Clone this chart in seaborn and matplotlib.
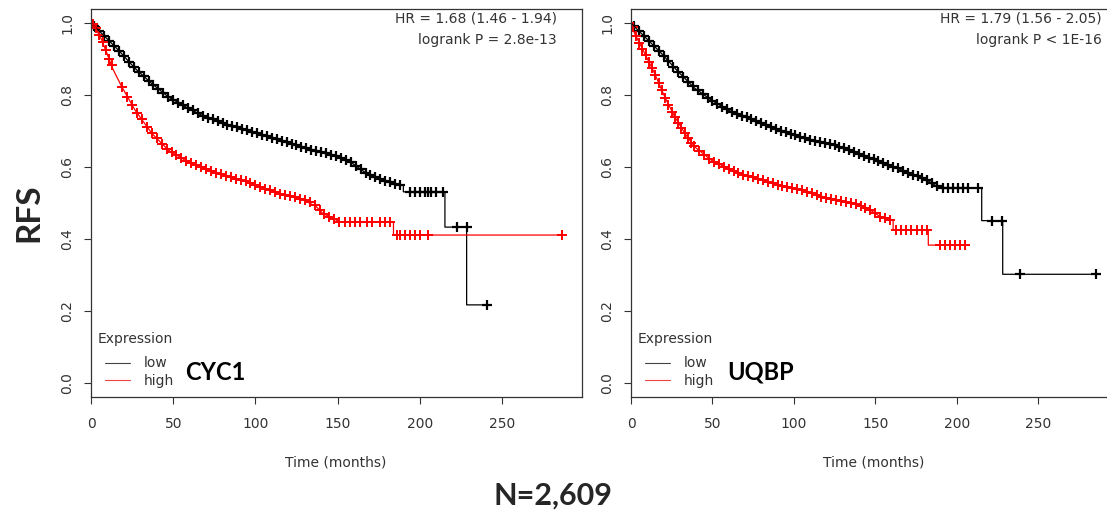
import matplotlib
matplotlib.use('Agg')
import matplotlib.pyplot as plt
import seaborn as sns
from matplotlib.lines import Line2D

# ---------------- data ----------------
# CYC1 (left panel) - curve vertices and censor marks
cyc1_low_t = [0, 8.5, 16.6, 26.8, 36.9, 47, 57.2, 67.3, 77.4, 87.6, 97.7, 107.9, 118, 128.2, 138.3,
              147.4, 157.5, 167.7, 177.8, 188, 190, 190, 215.3, 215.3, 228.5, 228.5, 240.7]
cyc1_low_s = [1.0, 0.962, 0.925, 0.874, 0.832, 0.795, 0.768, 0.744, 0.726, 0.712, 0.698, 0.684, 0.670,
              0.656, 0.643, 0.633, 0.615, 0.582, 0.564, 0.550, 0.550, 0.531, 0.531, 0.433, 0.433, 0.217, 0.217]
cyc1_low_ct = [2, 5, 8, 11, 14, 17, 20, 23, 26, 29, 32, 35, 38, 41, 44, 47, 50, 53, 56, 59, 62, 65, 68, 71,
               74, 77, 80, 83, 86, 89, 92, 95, 98, 101, 104, 107, 110, 113, 116, 119, 122, 125, 128, 131,
               134, 137, 140, 143, 146, 149, 152, 155, 158, 161, 164, 167, 170, 173, 176, 179, 182, 185,
               188, 194, 197, 200, 203, 205, 207, 210, 214, 222.4, 228.5, 240.7]
cyc1_low_cs = [0.991, 0.978, 0.964, 0.951, 0.937, 0.923, 0.908, 0.893, 0.878, 0.865, 0.852, 0.840, 0.828,
               0.817, 0.806, 0.795, 0.787, 0.779, 0.771, 0.764, 0.757, 0.750, 0.743, 0.737, 0.732, 0.727,
               0.722, 0.718, 0.714, 0.710, 0.706, 0.702, 0.698, 0.694, 0.690, 0.685, 0.681, 0.677, 0.673,
               0.669, 0.665, 0.660, 0.656, 0.652, 0.648, 0.645, 0.641, 0.638, 0.634, 0.630, 0.625, 0.620,
               0.613, 0.603, 0.594, 0.584, 0.578, 0.572, 0.567, 0.562, 0.558, 0.554, 0.550, 0.531, 0.531,
               0.531, 0.531, 0.531, 0.531, 0.531, 0.531, 0.433, 0.433, 0.217]

cyc1_high_t = [0, 2.4, 6.5, 10.5, 13, 18.7, 26.8, 36.9, 47, 57.2, 67.3, 77.4, 87.6, 97.7, 107.9, 118,
               128.2, 137, 141, 147.4, 151.5, 184, 184, 286.3]
cyc1_high_s = [1.0, 0.99, 0.953, 0.906, 0.875, 0.823, 0.758, 0.694, 0.647, 0.619, 0.600, 0.582, 0.568,
               0.555, 0.536, 0.522, 0.511, 0.490, 0.471, 0.457, 0.447, 0.447, 0.411, 0.411]
cyc1_high_ct = [1, 3, 5, 7, 9, 11, 12.5, 19, 22, 25, 28, 31, 34, 37, 40, 43, 46, 49, 52, 55, 58, 61, 64,
                67, 70, 73, 76, 79, 82, 85, 88, 91, 94, 97, 100, 103, 106, 109, 112, 115, 118, 121, 124,
                127, 130, 133, 136, 139, 142, 145, 148, 151, 154.5, 157.5, 160.6, 163.6, 167.7, 170.7,
                175.8, 178.8, 181.9, 186, 188, 191, 194, 197, 200, 205, 286.3]
cyc1_high_cs = [0.997, 0.985, 0.967, 0.947, 0.924, 0.900, 0.883, 0.821, 0.795, 0.771, 0.751, 0.732, 0.712,
                0.694, 0.680, 0.665, 0.651, 0.641, 0.633, 0.625, 0.618, 0.612, 0.606, 0.600, 0.595, 0.590,
                0.584, 0.580, 0.576, 0.572, 0.568, 0.564, 0.560, 0.556, 0.551, 0.545, 0.539, 0.535, 0.531,
                0.526, 0.522, 0.519, 0.516, 0.512, 0.509, 0.503, 0.494, 0.480, 0.469, 0.462, 0.455, 0.448,
                0.447, 0.447, 0.447, 0.447, 0.447, 0.447, 0.447, 0.447, 0.447, 0.411, 0.411, 0.411, 0.411,
                0.411, 0.411, 0.411, 0.411]

# UQBP (right panel)
uqbp_low_t = [0, 4.3, 10.4, 18.6, 28.9, 39.1, 49.3, 59.6, 69.8, 80, 90.3, 100.5, 110.8, 121, 131.3, 141.5,
              150.9, 161.1, 171.4, 181.6, 189.8, 215.4, 215.4, 228.3, 228.3, 285.6]
uqbp_low_s = [1.0, 0.98, 0.953, 0.916, 0.865, 0.819, 0.786, 0.758, 0.740, 0.721, 0.703, 0.689, 0.675,
              0.666, 0.652, 0.633, 0.619, 0.601, 0.582, 0.564, 0.541, 0.541, 0.451, 0.451, 0.302, 0.302]
uqbp_low_ct = [2, 5, 8, 11, 14, 17, 20, 23, 26, 29, 32, 35, 38, 41, 44, 47, 50, 53, 56, 59, 62, 65, 68, 71,
               74, 77, 80, 83, 86, 89, 92, 95, 98, 101, 104, 107, 110, 113, 116, 119, 122, 125, 128, 131,
               134, 137, 140, 143, 146, 149, 152, 155, 158, 161, 164, 167, 170, 173, 176, 179, 182, 185,
               188, 191.8, 194.9, 198, 201, 204.1, 207.2, 213.3, 221.5, 227.7, 239, 285.6]
uqbp_low_cs = [0.991, 0.977, 0.963, 0.950, 0.937, 0.923, 0.909, 0.894, 0.879, 0.865, 0.851, 0.837, 0.824,
               0.813, 0.803, 0.793, 0.784, 0.776, 0.768, 0.760, 0.754, 0.748, 0.743, 0.738, 0.732, 0.727,
               0.721, 0.716, 0.711, 0.705, 0.701, 0.697, 0.692, 0.688, 0.684, 0.680, 0.676, 0.673, 0.670,
               0.667, 0.665, 0.660, 0.656, 0.652, 0.647, 0.641, 0.636, 0.631, 0.626, 0.622, 0.617, 0.612,
               0.606, 0.601, 0.596, 0.590, 0.584, 0.579, 0.574, 0.569, 0.563, 0.555, 0.546, 0.541, 0.541,
               0.541, 0.541, 0.541, 0.541, 0.541, 0.451, 0.451, 0.302, 0.302]

uqbp_high_t = [0, 2.2, 8.4, 14.5, 20.7, 26.8, 33, 39.1, 49.3, 59.6, 69.8, 80, 90.3, 100.5, 110.8, 121,
               131.3, 140.7, 146.8, 153, 161, 161, 182.6, 182.6, 207.2]
uqbp_high_s = [1.0, 0.971, 0.916, 0.860, 0.795, 0.740, 0.694, 0.656, 0.619, 0.596, 0.578, 0.564, 0.550,
               0.541, 0.527, 0.513, 0.504, 0.494, 0.481, 0.462, 0.453, 0.425, 0.425, 0.383, 0.383]
uqbp_high_ct = [1, 3, 5, 7, 9, 11, 13, 15, 17, 19, 21, 23, 25, 27, 29, 31, 33, 35, 37, 39, 42, 45, 48, 51,
                54, 57, 60, 63, 66, 69, 72, 75, 78, 81, 84, 87, 90, 93, 96, 99, 102, 105, 108, 111, 114,
                117, 120, 123, 126, 129, 132, 135, 138, 141, 144, 147, 150, 153, 156, 159, 163, 166, 169,
                172, 175.5, 178.6, 181.6, 189.8, 192.9, 195.9, 199, 202, 205.2]
uqbp_high_cs = [0.990, 0.964, 0.944, 0.929, 0.911, 0.893, 0.874, 0.855, 0.834, 0.813, 0.792, 0.771, 0.754,
                0.738, 0.723, 0.708, 0.694, 0.681, 0.668, 0.657, 0.644, 0.633, 0.623, 0.615, 0.608, 0.601,
                0.595, 0.589, 0.584, 0.579, 0.575, 0.571, 0.567, 0.563, 0.559, 0.555, 0.551, 0.548, 0.545,
                0.542, 0.539, 0.535, 0.531, 0.527, 0.522, 0.518, 0.514, 0.511, 0.508, 0.506, 0.503, 0.500,
                0.497, 0.493, 0.487, 0.481, 0.471, 0.462, 0.457, 0.453, 0.425, 0.425, 0.425, 0.425, 0.425,
                0.425, 0.425, 0.383, 0.383, 0.383, 0.383, 0.383, 0.383]

genes = ['CYC1', 'UQBP']
hr_text = ['HR = 1.68 (1.46 - 1.94)\nlogrank P = 2.8e-13',
           'HR = 1.79 (1.56 - 2.05)\nlogrank P < 1E-16']
x_ticks = [0, 50, 100, 150, 200, 250]
y_ticks = [0.0, 0.2, 0.4, 0.6, 0.8, 1.0]

# ---------------- figure ----------------
W, H = 1107, 516
sns.set_style('white')
plt.rcParams['font.family'] = ['DejaVu Sans']
fig = plt.figure(figsize=(W / 100, H / 100), dpi=100)


def px_rect(x0, y0, x1, y1):
    # pixel box (from top-left) -> figure fraction rect
    return [x0 / W, 1 - y1 / H, (x1 - x0) / W, (y1 - y0) / H]


def km_panel(ax, lt, ls, lct, lcs, ht, hs, hct, hcs):
    sns.lineplot(x=lt, y=ls, ax=ax, color='black', lw=0.9, sort=False, estimator=None)
    sns.lineplot(x=ht, y=hs, ax=ax, color='red', lw=0.9, sort=False, estimator=None)
    sns.scatterplot(x=lct, y=lcs, ax=ax, marker='+', s=62, color='black', linewidth=1.6)
    sns.scatterplot(x=hct, y=hcs, ax=ax, marker='+', s=58, color='red', linewidth=1.4)
    ax.set_xlim(0, 298.5)
    ax.set_ylim(-0.04, 1.04)
    ax.set_xticks(x_ticks)
    ax.set_yticks(y_ticks)
    ax.set_yticklabels(['%.1f' % v for v in y_ticks], rotation=90, va='center')
    ax.tick_params(axis='both', direction='out', length=5, width=0.8, color='#333333',
                   labelsize=10, labelcolor='#333333', left=True, bottom=True)
    ax.tick_params(axis='x', pad=9)
    ax.tick_params(axis='y', pad=7)
    for sp in ax.spines.values():
        sp.set_color('#333333')
        sp.set_linewidth(0.9)
    ax.set_xlabel('')
    ax.set_ylabel('')


ax1 = fig.add_axes(px_rect(91, 8.6, 581.7, 397.4))
km_panel(ax1, cyc1_low_t, cyc1_low_s, cyc1_low_ct, cyc1_low_cs,
         cyc1_high_t, cyc1_high_s, cyc1_high_ct, cyc1_high_cs)
ax2 = fig.add_axes(px_rect(631, 8.6, 1117, 397.4))
km_panel(ax2, uqbp_low_t, uqbp_low_s, uqbp_low_ct, uqbp_low_cs,
         uqbp_high_t, uqbp_high_s, uqbp_high_ct, uqbp_high_cs)

handles = [Line2D([], [], color='#444444', lw=0.8), Line2D([], [], color='#ee4444', lw=0.8)]
for ax, g, hr, x0, gx, tx, hx in [(ax1, genes[0], hr_text[0], 91, 185, 336, 557),
                                  (ax2, genes[1], hr_text[1], 631, 727, 874, 1102)]:
    leg = ax.legend(handles, ['low', 'high'], loc='lower left',
                    bbox_to_anchor=(14 / 490.7, 0.024), frameon=False,
                    handlelength=1.8, handletextpad=1.0, labelspacing=0.26, borderpad=0,
                    borderaxespad=0, fontsize=10)
    for t in leg.get_texts():
        t.set_color('#333333')
    fig.text((x0 + 7) / W, 1 - 339 / H, 'Expression', fontsize=10, ha='left', va='center',
             color='#333333')
    fig.text(gx / W, 1 - 372 / H, g, fontsize=17, fontweight='bold', family='Lato',
             ha='left', va='center', color='black')
    fig.text(tx / W, 1 - 462 / H, 'Time (months)', fontsize=10, ha='center', va='center',
             color='#333333')
    fig.text(hx / W, 1 - 11 / H, hr, fontsize=10, ha='right', va='top', color='#333333',
             linespacing=1.75)

fig.text(29 / W, 1 - 213 / H, 'RFS', fontsize=24, fontweight='bold', family='Lato',
         rotation=90, ha='center', va='center')
fig.text(553 / W, 1 - 496 / H, 'N=2,609', fontsize=22, fontweight='bold', family='Lato',
         ha='center', va='center')

fig.savefig('out.png', dpi=100)
